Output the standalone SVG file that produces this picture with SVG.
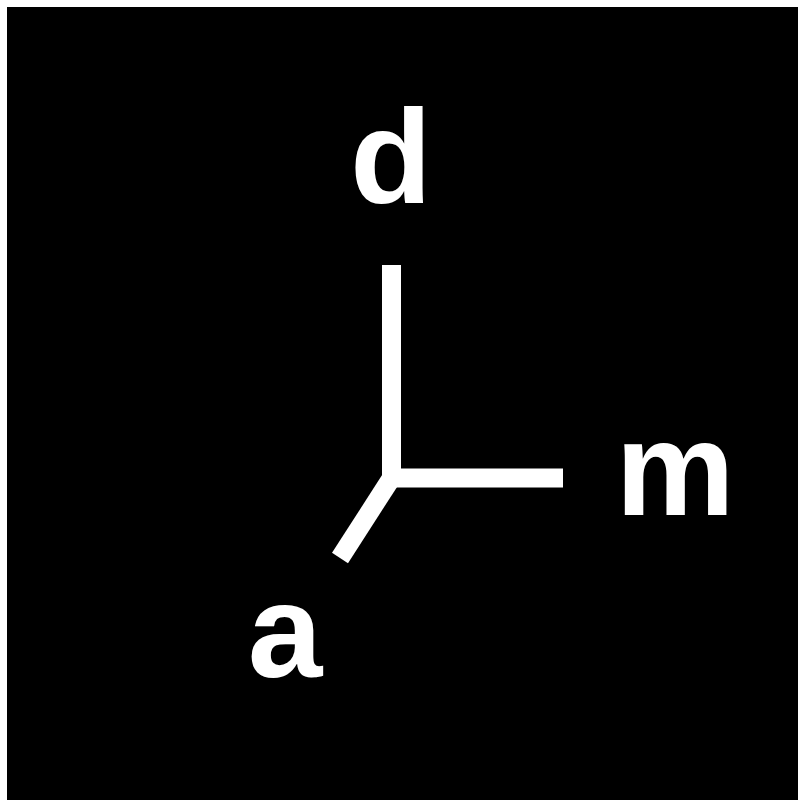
<svg xmlns="http://www.w3.org/2000/svg" width="798" height="800" viewBox="0 0 798 800">
<style>
.lbl{font-family:"Liberation Sans",Arial,sans-serif;font-weight:bold;font-size:134px;fill:#fff;text-anchor:middle}
.ax{stroke:#fff;stroke-width:19;fill:none;stroke-linecap:butt;stroke-linejoin:miter}
</style>
<rect x="0" y="0" width="798" height="800" fill="#fff"/>
<rect x="7" y="7" width="791" height="793" fill="#000"/>
<g id="connectors">
<path class="ax" d="M391.5,265 L391.5,478 L563,478"/>
<path class="ax" d="M391.5,478 L340,558"/>
</g>
<g id="node-d"><text class="lbl" x="391" y="203">d</text></g>
<g id="node-m"><text class="lbl" x="675" y="515">m</text></g>
<g id="node-a"><text class="lbl" x="285" y="677">a</text></g>
</svg>
